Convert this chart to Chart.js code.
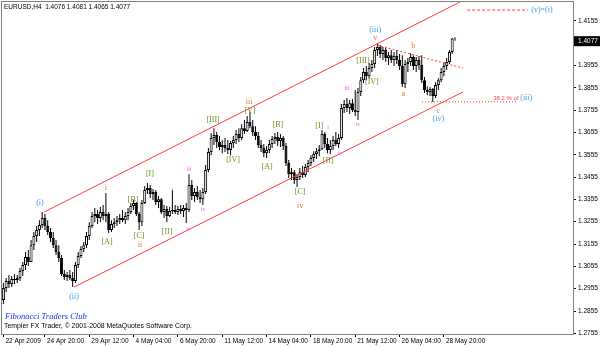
<!DOCTYPE html>
<html>
<head>
<meta charset="utf-8">
<title>EURUSD,H4</title>
<script src="https://cdn.jsdelivr.net/npm/chart.js@4.4.1/dist/chart.umd.min.js"></script>
<style>
  html, body { margin: 0; padding: 0; background: #fff; }
  canvas { display: block; }
</style>
</head>
<body>
<canvas id="chart" width="600" height="347"></canvas>
<script>
// EURUSD H4 (22 Apr - 29 May 2009) : bougies, canal et comptage d'Elliott.
const opens = [
  1.2904, 1.2958, 1.2989, 1.2976, 1.2998, 1.2994, 1.3003, 1.3034, 1.3061, 1.3097,
  1.3074, 1.3150, 1.3191, 1.3218, 1.3240, 1.3271, 1.3236, 1.3209, 1.3182, 1.3150,
  1.3119, 1.3092, 1.3021, 1.3007, 1.3016, 1.3003, 1.2989, 1.3061, 1.3101, 1.3133,
  1.3150, 1.3191, 1.3236, 1.3280, 1.3289, 1.3271, 1.3298, 1.3280, 1.3289, 1.3218,
  1.3245, 1.3253, 1.3262, 1.3271, 1.3262, 1.3280, 1.3298, 1.3325, 1.3339, 1.3289,
  1.3253, 1.3339, 1.3397, 1.3406, 1.3379, 1.3388, 1.3343, 1.3356, 1.3298, 1.3312,
  1.3280, 1.3303, 1.3307, 1.3298, 1.3312, 1.3303, 1.3316, 1.3307, 1.3419, 1.3370,
  1.3388, 1.3365, 1.3356, 1.3388, 1.3486, 1.3567, 1.3630, 1.3643, 1.3612, 1.3589,
  1.3598, 1.3585, 1.3576, 1.3607, 1.3621, 1.3648, 1.3630, 1.3674, 1.3661, 1.3701,
  1.3683, 1.3657, 1.3639, 1.3598, 1.3585, 1.3562, 1.3576, 1.3603, 1.3625, 1.3634,
  1.3616, 1.3630, 1.3594, 1.3518, 1.3468, 1.3477, 1.3442, 1.3455, 1.3477, 1.3464,
  1.3500, 1.3518, 1.3540, 1.3558, 1.3571, 1.3580, 1.3648, 1.3603, 1.3576, 1.3594,
  1.3621, 1.3603, 1.3630, 1.3764, 1.3782, 1.3764, 1.3786, 1.3755, 1.3746, 1.3836,
  1.3889, 1.3925, 1.3907, 1.3943, 1.3961, 1.4024, 1.4037, 1.4006, 1.4024, 1.3988,
  1.4001, 1.3979, 1.3997, 1.3979, 1.3952, 1.3871, 1.3961, 1.3970, 1.3993, 1.3952,
  1.3979, 1.3957, 1.3889, 1.3845, 1.3836, 1.3849, 1.3818, 1.3867, 1.3889, 1.3925,
  1.3952, 1.3970, 1.4015, 1.4076,
];
const highs = [
  1.2980, 1.3003, 1.3016, 1.3012, 1.3021, 1.3016, 1.3048, 1.3074, 1.3119, 1.3128,
  1.3173, 1.3209, 1.3236, 1.3262, 1.3298, 1.3289, 1.3262, 1.3227, 1.3209, 1.3173,
  1.3150, 1.3106, 1.3039, 1.3030, 1.3039, 1.3030, 1.3074, 1.3119, 1.3146, 1.3164,
  1.3209, 1.3253, 1.3298, 1.3316, 1.3307, 1.3321, 1.3330, 1.3383, 1.3298, 1.3262,
  1.3271, 1.3280, 1.3289, 1.3307, 1.3298, 1.3316, 1.3339, 1.3352, 1.3343, 1.3298,
  1.3352, 1.3415, 1.3428, 1.3419, 1.3401, 1.3397, 1.3370, 1.3361, 1.3330, 1.3325,
  1.3321, 1.3397, 1.3330, 1.3325, 1.3330, 1.3330, 1.3339, 1.3468, 1.3442, 1.3406,
  1.3415, 1.3397, 1.3406, 1.3509, 1.3585, 1.3652, 1.3674, 1.3657, 1.3639, 1.3621,
  1.3630, 1.3621, 1.3616, 1.3639, 1.3666, 1.3674, 1.3692, 1.3710, 1.3728, 1.3746,
  1.3710, 1.3683, 1.3657, 1.3621, 1.3603, 1.3594, 1.3621, 1.3639, 1.3652, 1.3657,
  1.3648, 1.3639, 1.3607, 1.3531, 1.3495, 1.3486, 1.3468, 1.3495, 1.3504, 1.3513,
  1.3531, 1.3553, 1.3571, 1.3585, 1.3598, 1.3666, 1.3657, 1.3630, 1.3621, 1.3639,
  1.3657, 1.3648, 1.3782, 1.3800, 1.3809, 1.3800, 1.3804, 1.3845, 1.3854, 1.3903,
  1.3943, 1.3952, 1.3966, 1.3979, 1.4037, 1.4055, 1.4046, 1.4037, 1.4033, 1.4015,
  1.4024, 1.4015, 1.4024, 1.4006, 1.4001, 1.3979, 1.3988, 1.4010, 1.4001, 1.3993,
  1.3997, 1.4001, 1.3903, 1.3862, 1.3858, 1.3854, 1.3880, 1.3898, 1.3943, 1.3970,
  1.3988, 1.4024, 1.4078, 1.4081,
];
const lows = [
  1.2886, 1.2940, 1.2958, 1.2962, 1.2976, 1.2980, 1.2989, 1.3012, 1.3039, 1.3057,
  1.3074, 1.3128, 1.3164, 1.3191, 1.3227, 1.3218, 1.3195, 1.3164, 1.3137, 1.3106,
  1.3074, 1.3012, 1.2994, 1.2989, 1.2994, 1.2962, 1.2980, 1.3048, 1.3092, 1.3119,
  1.3137, 1.3173, 1.3227, 1.3253, 1.3245, 1.3253, 1.3262, 1.3253, 1.3204, 1.3209,
  1.3227, 1.3236, 1.3245, 1.3253, 1.3245, 1.3262, 1.3289, 1.3307, 1.3280, 1.3218,
  1.3236, 1.3334, 1.3379, 1.3361, 1.3352, 1.3330, 1.3316, 1.3289, 1.3271, 1.3253,
  1.3276, 1.3289, 1.3289, 1.3285, 1.3289, 1.3276, 1.3249, 1.3298, 1.3352, 1.3343,
  1.3352, 1.3339, 1.3330, 1.3379, 1.3477, 1.3553, 1.3598, 1.3585, 1.3576, 1.3562,
  1.3567, 1.3558, 1.3553, 1.3585, 1.3603, 1.3612, 1.3621, 1.3648, 1.3657, 1.3674,
  1.3639, 1.3621, 1.3585, 1.3567, 1.3545, 1.3540, 1.3562, 1.3585, 1.3603, 1.3594,
  1.3589, 1.3576, 1.3504, 1.3451, 1.3442, 1.3424, 1.3410, 1.3442, 1.3451, 1.3455,
  1.3477, 1.3504, 1.3522, 1.3536, 1.3549, 1.3576, 1.3585, 1.3562, 1.3558, 1.3576,
  1.3594, 1.3585, 1.3621, 1.3742, 1.3746, 1.3737, 1.3746, 1.3728, 1.3710, 1.3818,
  1.3876, 1.3889, 1.3898, 1.3925, 1.3943, 1.3997, 1.3988, 1.3979, 1.3970, 1.3957,
  1.3966, 1.3952, 1.3961, 1.3934, 1.3858, 1.3854, 1.3925, 1.3952, 1.3934, 1.3925,
  1.3934, 1.3876, 1.3831, 1.3822, 1.3818, 1.3791, 1.3809, 1.3845, 1.3880, 1.3907,
  1.3934, 1.3961, 1.4006, 1.4065,
];
const closes = [
  1.2958, 1.2989, 1.2976, 1.2998, 1.2994, 1.3003, 1.3034, 1.3061, 1.3097, 1.3074,
  1.3150, 1.3191, 1.3218, 1.3240, 1.3271, 1.3236, 1.3209, 1.3182, 1.3150, 1.3119,
  1.3092, 1.3021, 1.3007, 1.3016, 1.3003, 1.2989, 1.3061, 1.3101, 1.3133, 1.3150,
  1.3191, 1.3236, 1.3280, 1.3289, 1.3271, 1.3298, 1.3280, 1.3289, 1.3218, 1.3245,
  1.3253, 1.3262, 1.3271, 1.3262, 1.3280, 1.3298, 1.3325, 1.3339, 1.3289, 1.3253,
  1.3339, 1.3397, 1.3406, 1.3379, 1.3388, 1.3343, 1.3356, 1.3298, 1.3312, 1.3280,
  1.3303, 1.3307, 1.3298, 1.3312, 1.3303, 1.3316, 1.3307, 1.3419, 1.3370, 1.3388,
  1.3365, 1.3356, 1.3388, 1.3486, 1.3567, 1.3630, 1.3643, 1.3612, 1.3589, 1.3598,
  1.3585, 1.3576, 1.3607, 1.3621, 1.3648, 1.3630, 1.3674, 1.3661, 1.3701, 1.3683,
  1.3657, 1.3639, 1.3598, 1.3585, 1.3562, 1.3576, 1.3603, 1.3625, 1.3634, 1.3616,
  1.3630, 1.3594, 1.3518, 1.3468, 1.3477, 1.3442, 1.3455, 1.3477, 1.3464, 1.3500,
  1.3518, 1.3540, 1.3558, 1.3571, 1.3580, 1.3648, 1.3603, 1.3576, 1.3594, 1.3621,
  1.3603, 1.3630, 1.3764, 1.3782, 1.3764, 1.3786, 1.3755, 1.3746, 1.3836, 1.3889,
  1.3925, 1.3907, 1.3943, 1.3961, 1.4024, 1.4037, 1.4006, 1.4024, 1.3988, 1.4001,
  1.3979, 1.3997, 1.3979, 1.3952, 1.3871, 1.3961, 1.3970, 1.3993, 1.3952, 1.3979,
  1.3957, 1.3889, 1.3845, 1.3836, 1.3849, 1.3818, 1.3867, 1.3889, 1.3925, 1.3952,
  1.3970, 1.4015, 1.4076, 1.4077,
];

// axes
const xTickIdx = [0, 15, 31, 47, 63, 79, 95, 111, 127, 143, 159];
const xTickLabels = ['22 Apr 2009', '24 Apr 20:00', '29 Apr 12:00', '4 May 04:00', '6 May 20:00',
  '11 May 12:00', '14 May 04:00', '18 May 20:00', '21 May 12:00', '26 May 04:00', '28 May 20:00'];
const yTicks = [1.2755, 1.2855, 1.2955, 1.3055, 1.3155, 1.3255, 1.3355, 1.3455,
  1.3555, 1.3655, 1.3755, 1.3855, 1.3955, 1.4055, 1.4155];

// objets tracés : [barre, prix]
const upperChannel = [[14.7, 1.3298], [164.8, 1.4239]];
const lowerChannel = [[25.5, 1.2962], [165.9, 1.3836]];
const bLine = [[134.9, 1.4046], [165.9, 1.3943]];
const fibLine = [[151.1, 1.3792], [185.4, 1.3792]];
const targetLine = [[167.4, 1.4203], [189.4, 1.4203]];

// comptage : [texte, barre, prix, style]
const waveLabels = [
  ['(i)', 13.2, 1.3339, 'blue'], ['(ii)', 25.5, 1.2918, 'blue'],
  ['i', 37, 1.3406, 'orange'], ['[A]', 37.4, 1.3164, 'green'],
  ['[B]', 46.8, 1.3352, 'green'], ['[C]', 49.0, 1.3191, 'green'], ['ii', 49.3, 1.3151, 'orange'],
  ['[I]', 52.9, 1.3468, 'green'], ['[II]', 59.1, 1.3209, 'green'],
  ['i', 61.2, 1.3401, 'pink'], ['ii', 66.6, 1.3222, 'pink'], ['iii', 67, 1.3491, 'pink'],
  ['iv', 72.1, 1.3312, 'pink'], ['v', 76, 1.3670, 'pink'],
  ['[III]', 75.7, 1.3710, 'green'], ['[IV]', 82.9, 1.3532, 'green'],
  ['iii', 88.7, 1.3791, 'orange'], ['[V]', 89, 1.3751, 'green'],
  ['[A]', 95.2, 1.3500, 'green'], ['[B]', 99.1, 1.3688, 'green'],
  ['[C]', 107.1, 1.3388, 'green'], ['iv', 107.1, 1.3325, 'orange'],
  ['[I]', 114, 1.3683, 'green'], ['i', 117.2, 1.3679, 'pink'], ['[II]', 117.2, 1.3527, 'green'],
  ['ii', 121.2, 1.3563, 'pink'], ['iii', 124, 1.3854, 'pink'], ['iv', 128, 1.3692, 'pink'],
  ['[III]', 129.8, 1.3975, 'green'], ['[IV]', 133, 1.3880, 'green'],
  ['(iii)', 134.2, 1.4113, 'blue'], ['v', 134.2, 1.4078, 'orange'],
  ['a', 144.3, 1.3827, 'orange'], ['b', 147.9, 1.4042, 'orange'],
  ['c', 157, 1.3751, 'orange'], ['(iv)', 157, 1.3715, 'blue'],
  ['(v)=(i)', 194.4, 1.4203, 'blue'],
];
const fibText = ['38.2 % of ', '(iii)', 176.8, 1.3809];

const labelStyle = {
  blue: { font: '8px "Liberation Serif"', color: '#3d9cf0' },
  orange: { font: '8px "Liberation Serif"', color: '#e07a2e' },
  green: { font: '8px "Liberation Serif"', color: '#6e8f1e' },
  pink: { font: '6px "Liberation Serif"', color: '#f25cf2' },
};

const RED = '#ff3b3b';
const pts = (arr) => arr.map(([x, y]) => ({ x, y }));
const lineDs = (arr, dash) => ({
  type: 'line', data: pts(arr), borderColor: RED, borderWidth: 1, borderDash: dash || [],
  pointRadius: 0, fill: false, order: 1,
});

const overlay = {
  id: 'mt4Overlay',
  beforeDraw(chart) {
    const { ctx } = chart;
    ctx.save(); ctx.fillStyle = '#fff'; ctx.fillRect(0, 0, chart.width, chart.height); ctx.restore();
  },
  afterDatasetsDraw(chart) {
    const { ctx, chartArea: a, scales: { x, y } } = chart;
    ctx.save();
    ctx.beginPath(); ctx.rect(a.left, a.top, a.width, a.height); ctx.clip();
    ctx.textAlign = 'center'; ctx.textBaseline = 'middle';
    waveLabels.forEach(([t, i, p, k]) => {
      ctx.font = labelStyle[k].font; ctx.fillStyle = labelStyle[k].color;
      ctx.fillText(t, x.getPixelForValue(i), y.getPixelForValue(p));
    });
    // 38.2 % of (iii)
    const [t1, t2, fi, fp] = fibText;
    ctx.textAlign = 'left';
    ctx.font = '6px "Liberation Sans"'; ctx.fillStyle = RED;
    const fx = x.getPixelForValue(fi), fy = y.getPixelForValue(fp);
    ctx.fillText(t1, fx, fy);
    const w = ctx.measureText(t1).width;
    ctx.font = labelStyle.blue.font; ctx.fillStyle = labelStyle.blue.color;
    ctx.fillText(t2, fx + w, fy);

    // titre, filigrane, copyright
    ctx.fillStyle = '#000'; ctx.font = '6.5px "Liberation Sans"'; ctx.textBaseline = 'top';
    ctx.fillText('EURUSD,H4  1.4076 1.4081 1.4065 1.4077', a.left + 2, a.top + 2);
    ctx.textBaseline = 'middle';
    ctx.font = '6.9px "Liberation Sans"';
    ctx.fillText('Templer FX Trader, \u00a9 2001-2008 MetaQuotes Software Corp.', a.left + 2, a.bottom - 8);
    ctx.font = 'italic 8.5px "Liberation Serif"'; ctx.fillStyle = '#1c2cf0';
    ctx.fillText('Fibonacci Traders Club', a.left + 3, a.bottom - 17);
    ctx.restore();

    // cadre
    ctx.save();
    ctx.strokeStyle = '#808080'; ctx.lineWidth = 1;
    ctx.strokeRect(a.left - 0.5, a.top - 0.5, a.width + 1, a.height + 1);
    // dernier prix
    const last = closes[closes.length - 1];
    const ly = y.getPixelForValue(last);
    ctx.fillStyle = '#000'; ctx.fillRect(a.right + 1, ly - 2, chart.width - a.right - 1, 10);
    ctx.fillStyle = '#fff'; ctx.font = '6.5px "Liberation Sans"';
    ctx.textAlign = 'left'; ctx.textBaseline = 'middle';
    ctx.fillText(last.toFixed(4), a.right + 5, ly + 3);
    ctx.restore();
  },
};

Chart.defaults.font.family = '"Liberation Sans", Arial, sans-serif';
Chart.defaults.color = '#000';

new Chart(document.getElementById('chart'), {
  type: 'bar',
  data: {
    datasets: [
      {
        data: highs.map((h, i) => ({ x: i, y: [lows[i], h] })),
        backgroundColor: '#000', barThickness: 1, grouped: false, inflateAmount: 0, order: 3,
      },
      {
        data: opens.map((o, i) => ({ x: i, y: [o, closes[i]] })),
        backgroundColor: (c) => (closes[c.dataIndex] >= opens[c.dataIndex] ? '#fff' : '#000'),
        borderColor: '#000', borderWidth: 1, borderSkipped: false,
        barThickness: 3, grouped: false, inflateAmount: 0, order: 2,
      },
      lineDs(upperChannel),
      lineDs(lowerChannel),
      lineDs(bLine, [2, 2]),
      lineDs(fibLine, [1, 2]),
      lineDs(targetLine, [3, 2]),
    ],
  },
  options: {
    responsive: false,
    animation: false,
    devicePixelRatio: 1,
    layout: { padding: { left: 2, top: 2, right: 0, bottom: 0 } },
    plugins: { legend: { display: false }, tooltip: { enabled: false } },
    scales: {
      x: {
        type: 'linear', min: -0.5, max: 205.6, offset: false,
        afterBuildTicks: (s) => { s.ticks = xTickIdx.map((v) => ({ value: v })); },
        afterFit: (s) => { s.height = 13; s.paddingLeft = 0; s.paddingRight = 0; },
        grid: { drawOnChartArea: false, offset: false, tickLength: 3, color: '#000' },
        border: { display: false },
        ticks: {
          autoSkip: false, maxRotation: 0, align: 'start', labelOffset: 2, padding: 0,
          font: { size: 6.5 }, callback: (v, i) => xTickLabels[i],
        },
      },
      y: {
        type: 'linear', position: 'right', min: 1.2752, max: 1.4239,
        afterBuildTicks: (s) => { s.ticks = yTicks.map((v) => ({ value: v })); },
        afterFit: (s) => { s.width = 27; s.paddingTop = 0; s.paddingBottom = 0; },
        grid: { drawOnChartArea: false, tickLength: 3, color: '#000' },
        border: { display: false },
        ticks: { padding: 2, font: { size: 6.5 }, callback: (v) => v.toFixed(4) },
      },
    },
  },
  plugins: [overlay],
});
</script>
</body>
</html>
